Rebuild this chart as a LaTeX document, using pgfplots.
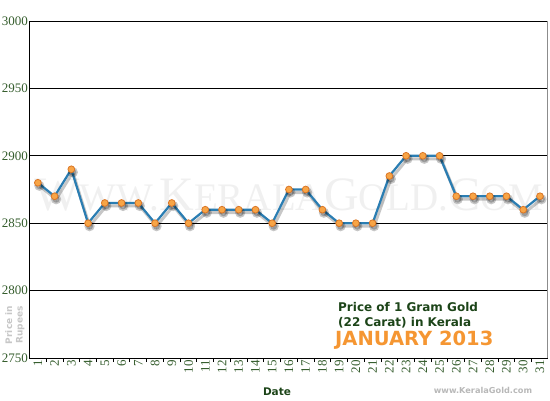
\documentclass[border=0pt]{standalone}
\usepackage{fontspec}
\setmainfont{Liberation Serif}
\newfontfamily\vsans{DejaVu Sans}
\usepackage{pgfplots}
\pgfplotsset{compat=1.18}
\definecolor{tickgreen}{RGB}{52,92,44}
\definecolor{darkgreen}{RGB}{28,68,24}
\definecolor{lineblue}{RGB}{42,125,178}
\definecolor{mkorange}{RGB}{248,165,70}
\definecolor{mkedge}{RGB}{218,118,38}
\definecolor{janorange}{RGB}{245,150,50}
\begin{document}
\begin{tikzpicture}[x=1pt,y=1pt]
\begin{axis}[
  scale only axis, width=518pt, height=337pt,
  xmin=0.5, xmax=31.45, ymin=2750, ymax=3000,
  ytick={2750,2800,...,3000},
  ymajorgrids, grid style={black, line width=0.9pt},
  xtick={1,...,31}, minor xtick={1.5,2.5,...,30.5},
  major tick length=0pt, minor tick length=4pt,
  tick align=outside, xtick pos=bottom, ytick pos=left,
  minor tick style={black, line width=0.9pt},
  axis line style={draw=none},
  /pgf/number format/assume math mode=true,
  /pgf/number format/1000 sep={},
  yticklabel style={font=\fontsize{13}{13}\selectfont, color=tickgreen, inner sep=1.5pt},
  xticklabel style={font=\fontsize{13}{13}\selectfont, color=tickgreen, rotate=90, anchor=east, inner sep=2pt},
  clip=false,
]
\coordinate (bbsw) at (rel axis cs:0,0);
\node[text=black!6, font=\fontsize{48}{48}\selectfont] at (axis cs:16,2871)
  {W\fontsize{39}{39}\selectfont WW.\fontsize{48}{48}\selectfont K\fontsize{39}{39}\selectfont ERALA\fontsize{48}{48}\selectfont G\fontsize{39}{39}\selectfont OLD.\fontsize{48}{48}\selectfont C\fontsize{39}{39}\selectfont OM};
\draw[black, line width=0.9pt] (rel axis cs:0,0) -- (rel axis cs:0,1);
\draw[black, line width=0.9pt] (rel axis cs:0,0) -- (rel axis cs:1,0);
\draw[black!45, line width=0.9pt] (rel axis cs:1,0) -- (rel axis cs:1,1);
\addplot[black, opacity=0.22, line width=3pt, xshift=1.5pt, yshift=-3pt,
  mark=*, mark size=3.5pt, mark options={draw=none, fill=black}] coordinates {
(1,2880) (2,2870) (3,2890) (4,2850) (5,2865) (6,2865) (7,2865) (8,2850)
(9,2865) (10,2850) (11,2860) (12,2860) (13,2860) (14,2860) (15,2850) (16,2875)
(17,2875) (18,2860) (19,2850) (20,2850) (21,2850) (22,2885) (23,2900) (24,2900)
(25,2900) (26,2870) (27,2870) (28,2870) (29,2870) (30,2860) (31,2870)};
\addplot[lineblue, line width=2.2pt, mark=*, mark size=3.4pt,
  mark options={fill=mkorange, draw=mkedge, line width=0.8pt}] coordinates {
(1,2880) (2,2870) (3,2890) (4,2850) (5,2865) (6,2865) (7,2865) (8,2850)
(9,2865) (10,2850) (11,2860) (12,2860) (13,2860) (14,2860) (15,2850) (16,2875)
(17,2875) (18,2860) (19,2850) (20,2850) (21,2850) (22,2885) (23,2900) (24,2900)
(25,2900) (26,2870) (27,2870) (28,2870) (29,2870) (30,2860) (31,2870)};
\end{axis}
\pgfresetboundingbox
\begin{scope}[shift={(bbsw)}, xshift=-29.5pt, yshift=-42pt]
\useasboundingbox (0,0) rectangle (550,400);
\node[anchor=west, text=darkgreen, font=\vsans\bfseries\fontsize{12}{12}\selectfont, inner sep=0pt] at (338,93) {Price of 1 Gram Gold};
\node[anchor=west, text=darkgreen, font=\vsans\bfseries\fontsize{12}{12}\selectfont, inner sep=0pt] at (338,77) {(22 Carat) in Kerala};
\node[anchor=west, text=janorange, font=\vsans\bfseries\fontsize{19.5}{19.5}\selectfont, inner sep=0pt] at (335,60) {JANUARY 2013};
\node[text=darkgreen, font=\vsans\bfseries\fontsize{10.5}{10.5}\selectfont, inner sep=0pt] at (277,8) {Date};
\node[rotate=90, text=black!22, font=\vsans\bfseries\fontsize{9}{10.5}\selectfont, align=center, inner sep=0pt] at (15,75) {Price in\\Rupees};
\node[text=black!28, font=\vsans\bfseries\fontsize{8.2}{8.2}\selectfont, inner sep=0pt] at (483,10) {www.KeralaGold.com};
\end{scope}
\end{tikzpicture}
\end{document}
